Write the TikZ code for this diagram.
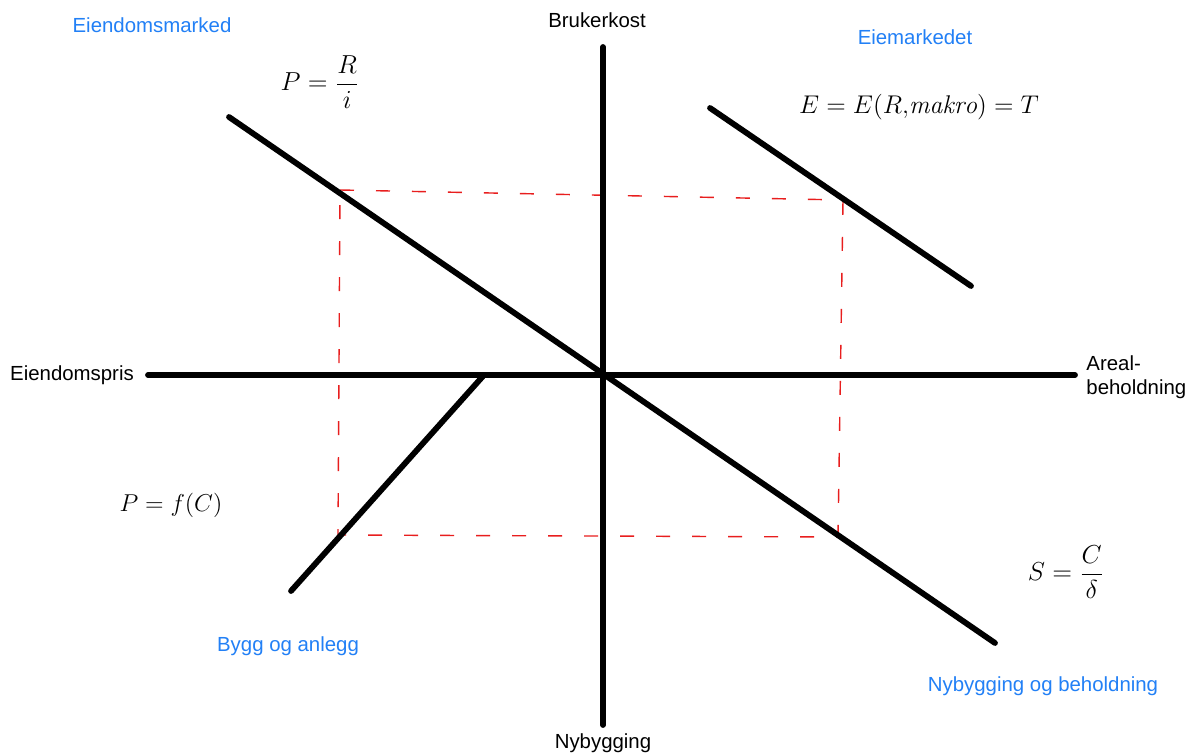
\RequirePackage{fix-cm}
\documentclass[tikz,border=0pt]{standalone}
\usepackage{amsmath}
\usepackage{fontspec}
\setsansfont{Liberation Sans}
\definecolor{lblblue}{RGB}{34,128,246}
\definecolor{dashred}{RGB}{232,30,30}
\begin{document}
\begin{tikzpicture}[x=0.5pt,y=-0.5pt,
  axis/.style={line width=2.9pt,line cap=round,black},
  curve/.style={line width=2.9pt,line cap=round,black},
  guide/.style={dashred,line width=0.7pt,dash pattern=on 7pt off 11pt},
  title/.style={font=\sffamily\fontsize{10.2}{12}\selectfont,text=lblblue,inner sep=0pt},
  axlabel/.style={font=\sffamily\fontsize{10.2}{12.2}\selectfont,inner sep=0pt},
  eq/.style={font=\fontsize{12.2}{14}\selectfont,inner sep=0pt},
  eqf/.style={font=\fontsize{13}{15}\selectfont,inner sep=0pt},
  eqw/.style={font=\fontsize{12.8}{16}\selectfont,inner sep=0pt}]
\useasboundingbox (0,0) rectangle (1193,753);
\fill[white] (0,0) rectangle (1193,753);
% axes
\coordinate (vt) at (603,47);
\coordinate (vb) at (603,725);
\coordinate (hl) at (148,375);
\coordinate (hr) at (1075,375);
% curves
\coordinate (d1) at (229,117);
\coordinate (d2) at (995,643);
\coordinate (e1) at (710,108);
\coordinate (e2) at (971,286);
\coordinate (b1) at (484,375);
\coordinate (b2) at (291,591);
% guide rectangle corners
\coordinate (r1) at (340,190);
\coordinate (r2) at (843,200);
\coordinate (r3) at (838,537);
\coordinate (r4) at (338,535);
\draw[guide] (r1) -- (r2) -- (r3) -- (r4) -- cycle;
\draw[axis] (vt) -- (vb);
\draw[axis] (hl) -- (hr);
\draw[curve] (d1) -- (d2);
\draw[curve] (e1) -- (e2);
\draw[curve] (b1) -- (b2);
% labels
\node[title] (t1) at (152,25) {Eiendomsmarked};
\node[title] (t2) at (915,37) {Eiemarkedet};
\node[title] (t3) at (288,646) {Bygg og anlegg};
\node[title] (t4) at (1043,686) {Nybygging og beholdning};
\node[axlabel] (a1) at (597,20) {Brukerkost};
\node[axlabel] (a2) at (603,743) {Nybygging};
\node[axlabel] (a3) at (72,375) {Eiendomspris};
\node[axlabel,anchor=west,align=left] (a4) at (1086,377) {Areal-\\beholdning};
% equations
\node[eqf] (q1) at (320,82) {$P=\dfrac{R}{i}$};
\node[eqw] (q2) at (919,107) {$E=E(R{,}\mathit{makro})=T$};
\node[eq] (q3) at (171,505) {$P=f(C)$};
\node[eqf] (q4) at (1066,572) {$S=\dfrac{C}{\delta}$};
\end{tikzpicture}
\end{document}
